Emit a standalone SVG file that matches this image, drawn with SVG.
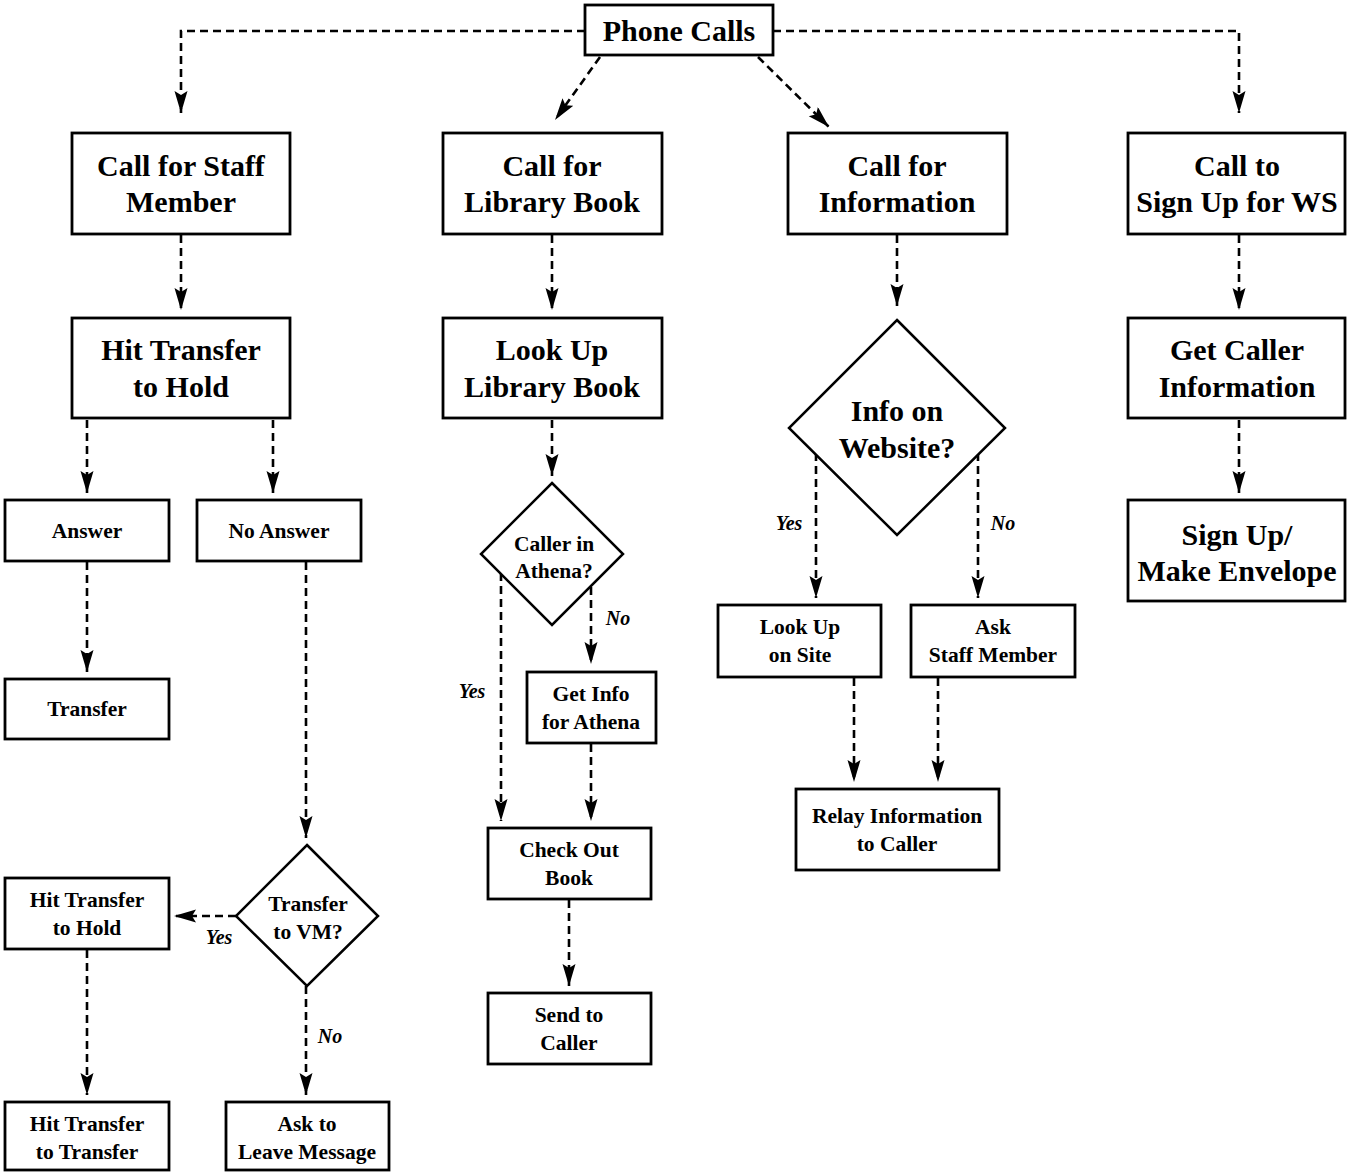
<svg xmlns="http://www.w3.org/2000/svg" width="1347" height="1173" viewBox="0 0 1347 1173">
<style>
.box{fill:#fff;stroke:#000;stroke-width:2.8}
.dia{fill:#fff;stroke:#000;stroke-width:2.5}
.c{fill:none;stroke:#000;stroke-width:2.6;stroke-dasharray:8,5}
.ca{fill:none;stroke:#000;stroke-width:2.6;stroke-dasharray:8,5;marker-end:url(#ah)}
text{font-family:"Liberation Serif","Times New Roman",serif;font-weight:bold;fill:#000;text-anchor:middle}
.big{font-size:30px}
.sm{font-size:21.5px}
.lbl{font-size:20px;font-style:italic}
</style>
<defs>
<marker id="ah" markerUnits="userSpaceOnUse" markerWidth="24" markerHeight="14" refX="22" refY="6.5" orient="auto">
<path d="M0,0 L22,6.5 L0,13 L4,6.5 z" fill="#000"/>
</marker>
</defs>
<rect width="1347" height="1173" fill="#fff"/>
<g id="connectors">
<path class="ca" d="M585,31 H181 V113"/>
<path class="ca" d="M773,31 H1239 V113"/>
<path class="ca" d="M600,57 L555,120"/>
<path class="ca" d="M758,57 L829,127"/>
<path class="ca" d="M181,235 V310"/>
<path class="ca" d="M552,235 V310"/>
<path class="ca" d="M897,235 V306"/>
<path class="ca" d="M1239,235 V310"/>
<path class="ca" d="M87,420 V493"/>
<path class="ca" d="M273,420 V493"/>
<path class="ca" d="M1239,420 V493"/>
<path class="ca" d="M87,562 V672"/>
<path class="ca" d="M306,562 V838"/>
<path class="ca" d="M236,916 H174"/>
<path class="ca" d="M87,950 V1095"/>
<path class="ca" d="M306,986 V1095"/>
<path class="ca" d="M552,420 V476"/>
<path class="ca" d="M501,573 V821"/>
<path class="ca" d="M591,587 V664"/>
<path class="ca" d="M591,744 V821"/>
<path class="ca" d="M569,900 V986"/>
<path class="ca" d="M816,453 V598"/>
<path class="ca" d="M978,453 V598"/>
<path class="ca" d="M854,678 V782"/>
<path class="ca" d="M938,678 V782"/>
</g>
<g id="n-phone"><rect class="box" x="585" y="5" width="188" height="50"/><text class="big" x="679" y="41">Phone Calls</text></g>
<g id="n-staff"><rect class="box" x="72" y="133" width="218" height="101"/><text class="big" x="181" y="176">Call for Staff</text><text class="big" x="181" y="212">Member</text></g>
<g id="n-library"><rect class="box" x="443" y="133" width="219" height="101"/><text class="big" x="552" y="176">Call for</text><text class="big" x="552" y="212">Library Book</text></g>
<g id="n-info"><rect class="box" x="788" y="133" width="219" height="101"/><text class="big" x="897" y="176">Call for</text><text class="big" x="897" y="212">Information</text></g>
<g id="n-signup"><rect class="box" x="1128" y="133" width="217" height="101"/><text class="big" x="1237" y="176">Call to</text><text class="big" x="1237" y="212">Sign Up for WS</text></g>
<g id="n-hit-hold"><rect class="box" x="72" y="318" width="218" height="100"/><text class="big" x="181" y="360">Hit Transfer</text><text class="big" x="181" y="397">to Hold</text></g>
<g id="n-lookup-book"><rect class="box" x="443" y="318" width="219" height="100"/><text class="big" x="552" y="360">Look Up</text><text class="big" x="552" y="397">Library Book</text></g>
<g id="n-website"><polygon class="dia" points="897,320 1005,428 897,535 789,428"/><text class="big" x="897" y="421">Info on</text><text class="big" x="897" y="458">Website?</text></g>
<g id="n-caller-info"><rect class="box" x="1128" y="318" width="217" height="100"/><text class="big" x="1237" y="360">Get Caller</text><text class="big" x="1237" y="397">Information</text></g>
<g id="n-envelope"><rect class="box" x="1128" y="500" width="217" height="101"/><text class="big" x="1237" y="545">Sign Up/</text><text class="big" x="1237" y="581">Make Envelope</text></g>
<g id="n-answer"><rect class="box" x="5" y="500" width="164" height="61"/><text class="sm" x="87" y="538">Answer</text></g>
<g id="n-noanswer"><rect class="box" x="197" y="500" width="164" height="61"/><text class="sm" x="279" y="538">No Answer</text></g>
<g id="n-transfer"><rect class="box" x="5" y="679" width="164" height="60"/><text class="sm" x="87" y="716">Transfer</text></g>
<g id="n-vm"><polygon class="dia" points="307,845 378,916 307,986 236,916"/><text class="sm" x="308" y="911">Transfer</text><text class="sm" x="308" y="939">to VM?</text></g>
<g id="n-hit-hold2"><rect class="box" x="5" y="878" width="164" height="71"/><text class="sm" x="87" y="907">Hit Transfer</text><text class="sm" x="87" y="935">to Hold</text></g>
<g id="n-hit-transfer"><rect class="box" x="5" y="1102" width="164" height="68"/><text class="sm" x="87" y="1131">Hit Transfer</text><text class="sm" x="87" y="1159">to Transfer</text></g>
<g id="n-leave-msg"><rect class="box" x="226" y="1102" width="163" height="68"/><text class="sm" x="307" y="1131">Ask to</text><text class="sm" x="307" y="1159">Leave Message</text></g>
<g id="n-athena"><polygon class="dia" points="552,483 623,554 552,625 481,554"/><text class="sm" x="554" y="551">Caller in</text><text class="sm" x="554" y="578">Athena?</text></g>
<g id="n-getinfo"><rect class="box" x="527" y="672" width="129" height="71"/><text class="sm" x="591" y="701">Get Info</text><text class="sm" x="591" y="729">for Athena</text></g>
<g id="n-checkout"><rect class="box" x="488" y="828" width="163" height="71"/><text class="sm" x="569" y="857">Check Out</text><text class="sm" x="569" y="885">Book</text></g>
<g id="n-send"><rect class="box" x="488" y="993" width="163" height="71"/><text class="sm" x="569" y="1022">Send to</text><text class="sm" x="569" y="1050">Caller</text></g>
<g id="n-lookup-site"><rect class="box" x="718" y="605" width="163" height="72"/><text class="sm" x="800" y="634">Look Up</text><text class="sm" x="800" y="662">on Site</text></g>
<g id="n-ask-staff"><rect class="box" x="911" y="605" width="164" height="72"/><text class="sm" x="993" y="634">Ask</text><text class="sm" x="993" y="662">Staff Member</text></g>
<g id="n-relay"><rect class="box" x="796" y="789" width="203" height="81"/><text class="sm" x="897" y="823">Relay Information</text><text class="sm" x="897" y="851">to Caller</text></g>
<g id="labels">
<text class="lbl" x="472" y="698">Yes</text>
<text class="lbl" x="618" y="625">No</text>
<text class="lbl" x="789" y="530">Yes</text>
<text class="lbl" x="1003" y="530">No</text>
<text class="lbl" x="219" y="944">Yes</text>
<text class="lbl" x="330" y="1043">No</text>
</g>
</svg>
